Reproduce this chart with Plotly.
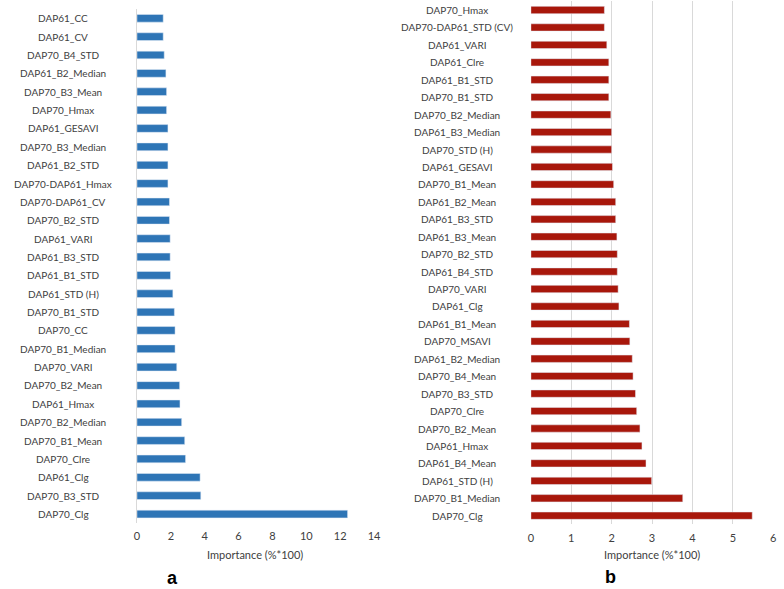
import plotly.graph_objects as go

# Panel a (top to bottom)
cats_a = ["DAP61_CC", "DAP61_CV", "DAP70_B4_STD", "DAP61_B2_Median", "DAP70_B3_Mean",
          "DAP70_Hmax", "DAP61_GESAVI", "DAP70_B3_Median", "DAP61_B2_STD", "DAP70-DAP61_Hmax",
          "DAP70-DAP61_CV", "DAP70_B2_STD", "DAP61_VARI", "DAP61_B3_STD", "DAP61_B1_STD",
          "DAP61_STD (H)", "DAP70_B1_STD", "DAP70_CC", "DAP70_B1_Median", "DAP70_VARI",
          "DAP70_B2_Mean", "DAP61_Hmax", "DAP70_B2_Median", "DAP70_B1_Mean", "DAP70_Clre",
          "DAP61_Clg", "DAP70_B3_STD", "DAP70_Clg"]
vals_a = [1.55, 1.55, 1.61, 1.71, 1.75, 1.75, 1.83, 1.83, 1.83, 1.83,
          1.92, 1.92, 1.96, 1.96, 1.98, 2.12, 2.21, 2.25, 2.25, 2.35,
          2.52, 2.54, 2.64, 2.82, 2.87, 3.73, 3.77, 12.44]

# Panel b (top to bottom)
cats_b = ["DAP70_Hmax", "DAP70-DAP61_STD (CV)", "DAP61_VARI", "DAP61_Clre", "DAP61_B1_STD",
          "DAP70_B1_STD", "DAP70_B2_Median", "DAP61_B3_Median", "DAP70_STD (H)", "DAP61_GESAVI",
          "DAP70_B1_Mean", "DAP61_B2_Mean", "DAP61_B3_STD", "DAP61_B3_Mean", "DAP70_B2_STD",
          "DAP61_B4_STD", "DAP70_VARI", "DAP61_Clg", "DAP61_B1_Mean", "DAP70_MSAVI",
          "DAP61_B2_Median", "DAP70_B4_Mean", "DAP70_B3_STD", "DAP70_Clre", "DAP70_B2_Mean",
          "DAP61_Hmax", "DAP61_B4_Mean", "DAP61_STD (H)", "DAP70_B1_Median", "DAP70_Clg"]
vals_b = [1.82, 1.82, 1.88, 1.93, 1.93, 1.93, 1.98, 2.00, 2.00, 2.02,
          2.05, 2.10, 2.10, 2.13, 2.14, 2.14, 2.16, 2.18, 2.44, 2.45,
          2.51, 2.53, 2.59, 2.62, 2.70, 2.75, 2.85, 2.99, 3.76, 5.48]

ticks_a = [0, 2, 4, 6, 8, 10, 12, 14]
ticks_b = [0, 1, 2, 3, 4, 5, 6]

W, H = 784, 589
FONT = "Lato, 'Open Sans', sans-serif"
TXT = "#404040"

def px_x(p):
    return p / W

def px_y(p):
    return 1 - p / H

fig = go.Figure()
fig.add_trace(go.Bar(x=vals_a, y=cats_a, orientation="h", marker=dict(color="#2E75B6"),
                     xaxis="x", yaxis="y", showlegend=False))
fig.add_trace(go.Bar(x=vals_b, y=cats_b, orientation="h", marker=dict(color="#A8170B"),
                     xaxis="x2", yaxis="y2", showlegend=False))

common_x = dict(showline=False, zeroline=False, ticks="outside", ticklen=3,
                tickcolor="rgba(0,0,0,0)", tickfont=dict(family=FONT, size=11, color=TXT))
fig.update_layout(
    width=W, height=H, margin=dict(l=0, r=0, t=0, b=0),
    paper_bgcolor="white", plot_bgcolor="white", bargap=0.58,
    xaxis=dict(domain=[px_x(135.7), px_x(375.8)], range=[0, 14], tickvals=ticks_a,
               showgrid=False, anchor="y", **common_x),
    yaxis=dict(domain=[px_y(523.2), px_y(9.1)], autorange="reversed", showticklabels=False,
               showline=True, linecolor="#D9D9D9", linewidth=1, showgrid=False,
               anchor="x", categoryorder="array", categoryarray=cats_a),
    xaxis2=dict(domain=[px_x(534.7), px_x(780.2)], range=[0, 6], tickvals=ticks_b,
                showgrid=True, gridcolor="#D9D9D9", gridwidth=1, anchor="y2", **common_x),
    yaxis2=dict(domain=[px_y(524.4), px_y(1.3)], autorange="reversed", showticklabels=False,
                showline=False, showgrid=False, anchor="x2",
                categoryorder="array", categoryarray=cats_b),
)

# category labels (centered, as in the original)
for c in cats_a:
    fig.add_annotation(x=px_x(61), xref="paper", y=c, yref="y", text=c, showarrow=False,
                       xanchor="center", yanchor="middle",
                       font=dict(family=FONT, size=10, color=TXT))
for c in cats_b:
    fig.add_annotation(x=px_x(460), xref="paper", y=c, yref="y2", text=c, showarrow=False,
                       xanchor="center", yanchor="middle",
                       font=dict(family=FONT, size=10, color=TXT))

for xc in (255, 657):
    fig.add_annotation(x=px_x(xc), y=px_y(554), xref="paper", yref="paper",
                       text="Importance (%*100)", showarrow=False,
                       xanchor="center", yanchor="middle",
                       font=dict(family=FONT, size=11, color=TXT))
fig.add_annotation(x=px_x(172), y=px_y(578), xref="paper", yref="paper", text="<b>a</b>",
                   showarrow=False, xanchor="center", yanchor="middle",
                   font=dict(family="Liberation Sans, Arial", size=18, color="black"))
fig.add_annotation(x=px_x(615), y=px_y(577), xref="paper", yref="paper", text="<b>b</b>",
                   showarrow=False, xanchor="center", yanchor="middle",
                   font=dict(family="Liberation Sans, Arial", size=18, color="black"))

fig.write_html(
    "out.html",
    config={"displayModeBar": False},
    post_script=("document.body.style.margin='0px';"
                 "document.body.style.overflow='hidden';"
                 "document.documentElement.style.overflow='hidden';"),
)
